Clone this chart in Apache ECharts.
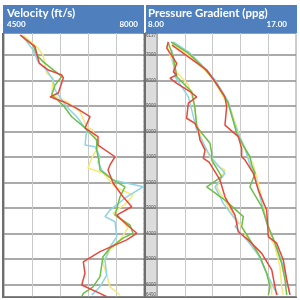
<!DOCTYPE html>
<html><head><meta charset="utf-8">
<script src="https://cdn.jsdelivr.net/npm/echarts@6/dist/echarts.min.js"></script>
<style>html,body{margin:0;padding:0;background:#fff}#c{width:300px;height:300px}</style>
</head><body><div id="c"></div>
<script>
// ---- text ----
const velTitle = 'Velocity (ft/s)';
const ppgTitle = 'Pressure Gradient (ppg)';
const velTickLabels = ['4500', '8000'];
const ppgTickLabels = ['8.00', '17.00'];
// ---- axes ----
const depthTop = 6137, depthBottom = 16490;
const velMin = 4500, velMax = 8000;
const velGridValues = [5200, 5900, 6600, 7300];
const ppgMin = 8, ppgMax = 17;
const ppgGridValues = [9.8, 11.6, 13.4, 15.2];
// ---- velocity track ----
const velRedDepth = [6215,6670,7330,7590,7780,7900,8490,8640,8830,9090,9420,9860,10200,10530,10990,11310,11510,12020,12560,12950,13280,13590,13990,14250,14710,15110,15560,16020,16350,16480];
const velRed = [4900,5275,5383,5608,5943,5983,5858,5650,5983,6318,6650,6525,6850,6850,7275,7150,7100,7225,7475,7693,7318,7525,7818,7568,6900,6483,6525,6443,6900,7068];
const velYellowDepth = [6215,6730,7000,7720,7900,8570,8830,9220,9810,9940,10600,11040,11430,11630,12170,12490,12800,13200,13540,13780,14250,14650,15160,15630,16090,16410];
const velYellow = [4983,5350,5475,5568,5725,5693,6068,6400,6568,6725,6850,6693,6600,6975,7275,7725,7568,7225,7475,7600,7400,7150,6975,7068,7150,7400];
const velCyanDepth = [6290,6800,7260,7590,7980,8370,9030,9420,9940,10530,10600,10990,11180,11510,11900,12170,12560,13080,13340,13540,14130,14520,15040,15630,16090,16410];
const velCyan = [4975,5225,5350,5568,5725,5775,6068,6318,6568,6525,6775,6900,6850,6943,7225,7975,7568,7150,7025,7275,7318,7150,7025,7068,6900,6693];
const velGreenDepth = [6215,6610,7000,7260,7850,8180,8570,8960,9420,9860,10330,10730,11170,11510,11900,12170,12560,13280,13670,13990,14180,14570,14910,15690,16090,16350,16480];
const velGreen = [4917,5225,5318,5475,5943,5775,5693,5975,6193,6525,6818,6818,6875,6900,7225,7525,7400,7275,7650,7725,7475,7150,6975,6900,6725,6483,6443];
// ---- pressure track: lower group ----
const ppRedDepth = [6480,6730,7330,7660,7780,7910,8110,8440,8640,8890,9480,9680,9940,10330,10730,11050,11200,11900,12560,13280,13930,14250,14780,15430,16090,16410];
const ppRed = [8.73,8.63,9.28,9.06,9.28,8.84,9.28,10.14,10.57,10.03,9.92,10.46,10.67,10.78,11.11,11.00,11.37,12.08,12.40,13.05,13.26,13.91,14.78,15.43,15.64,15.75];
const ppYellowDepth = [6610,7000,7590,8180,8770,9680,10660,11310,11510,12170,12950,13730,14250,14910,15560,16090,16410];
const ppYellow = [8.65,8.84,9.17,10.03,10.35,10.57,11.11,11.76,12.40,11.87,12.62,13.48,13.91,14.67,15.10,15.43,15.43];
const ppCyanDepth = [6800,7850,8640,9160,9940,10840,11120,11640,12170,12820,13600,13730,14250,14840,15560,16220,16410];
const ppCyan = [8.95,9.17,10.03,10.25,10.57,11.32,11.65,12.40,11.76,12.29,13.26,13.05,13.81,14.56,15.10,15.64,15.85];
const ppGreenDepth = [6530,7070,7850,8440,9090,9810,10460,10840,11120,11770,12170,12690,13340,13730,14250,14910,15560,16090,16410];
const ppGreen = [8.73,9.06,9.28,10.25,10.46,10.57,11.43,11.54,11.54,12.19,11.22,12.40,13.59,13.48,14.02,14.67,15.10,15.32,15.21];
// ---- pressure track: upper group ----
const fgRedDepth = [6610,7120,7590,8050,8640,9030,9750,10200,10660,10990,11120,11640,12300,13080,14130,14380,15040,15820,16410];
const fgRed = [8.97,10.14,11.22,11.76,12.40,12.51,12.40,13.26,13.48,13.48,13.70,14.24,14.56,15.10,15.21,15.75,16.18,16.40,16.61];
const fgYellowDepth = [6570,7040,7670,8060,8770,9080,9810,10570,11310,12030,13210,14130,14520,15300,16090,16410];
const fgYellow = [8.97,10.14,11.24,11.76,12.40,12.73,13.16,13.57,14.24,14.56,15.00,15.32,15.64,15.96,16.07,16.18];
const fgCyanDepth = [6480,6930,7520,7980,8500,8830,9550,10070,10660,11310,11770,12820,13600,14520,15300,16090,16410];
const fgCyan = [9.06,10.14,11.11,11.76,12.29,12.62,12.94,13.26,13.70,14.02,14.35,14.78,15.10,15.75,16.18,16.50,16.61];
const fgGreenDepth = [6490,6920,7470,7940,8410,8880,9550,10070,10530,10990,11310,11640,12170,12950,13730,14380,15170,15820,16410];
const fgGreen = [8.91,10.01,10.98,11.63,12.14,12.60,12.92,13.16,13.57,14.02,14.13,14.35,14.02,14.78,15.21,15.64,16.07,16.29,16.40];

const C = {red:'#e8483c', yellow:'#f7e77a', cyan:'#8fd3e6', green:'#6cbf4a'};
const HEAD = '#4f80bd';
const zip = (vals, deps) => vals.map((v, i) => [v, deps[i]]);
const vGrid = (vals) => ({
  silent: true, symbol: 'none', z: 1,
  label: {show: false},
  lineStyle: {color: '#c9c9c9', width: 1, type: 'solid'},
  data: vals.map(v => ({xAxis: v}))
});
function line(name, vals, deps, color, gi, extra) {
  return Object.assign({
    name, type: 'line', xAxisIndex: gi, yAxisIndex: gi,
    data: zip(vals, deps), symbol: 'none', z: 5,
    lineStyle: {color, width: 1.5}, itemStyle: {color},
    animation: false
  }, extra || {});
}
const hSplit = {show: true, lineStyle: {color: '#8e8e8e', width: 1.5}};
const yBase = (gi) => ({
  type: 'value', gridIndex: gi, min: depthTop, max: depthBottom, inverse: true,
  splitNumber: 10, axisLine: {show: false}, axisTick: {show: false},
  axisLabel: {show: false}, splitLine: hSplit
});

const chart = echarts.init(document.getElementById('c'), null, {renderer: 'canvas'});
chart.setOption({
  animation: false,
  backgroundColor: '#fff',
  grid: [
    {left: 4, top: 33, width: 140, height: 264, show: true, borderColor: '#8a8a8a', borderWidth: 1},
    {left: 157, top: 33, width: 139, height: 264, show: true, borderColor: '#9a9a9a', borderWidth: 1},
    {left: 145, top: 33, width: 12, height: 264, show: true, backgroundColor: '#dcdcdc', borderColor: '#8a8a8a', borderWidth: 1}
  ],
  xAxis: [
    {type: 'value', gridIndex: 0, min: velMin, max: velMax, show: false},
    {type: 'value', gridIndex: 1, min: ppgMin, max: ppgMax, show: false},
    {type: 'value', gridIndex: 2, min: 0, max: 1, show: false}
  ],
  yAxis: [
    yBase(0), yBase(1),
    Object.assign(yBase(2), {
      position: 'right',
      axisTick: {show: true, inside: true, length: 2, lineStyle: {color: '#777'}},
      minorTick: {show: true, splitNumber: 5, length: 1.5, lineStyle: {color: '#999'}},
      axisLabel: {show: true, inside: true, margin: 1, fontSize: 4.5, color: '#555',
        fontFamily: 'Liberation Sans', verticalAlignMinLabel: 'top', verticalAlignMaxLabel: 'bottom',
        formatter: v => String(Math.round(v))}
    })
  ],
  series: [
    line('Velocity yellow', velYellow, velYellowDepth, C.yellow, 0, {markLine: vGrid(velGridValues)}),
    line('Velocity cyan', velCyan, velCyanDepth, C.cyan, 0),
    line('Velocity green', velGreen, velGreenDepth, C.green, 0),
    line('Velocity red', velRed, velRedDepth, C.red, 0),
    line('PP yellow', ppYellow, ppYellowDepth, C.yellow, 1, {markLine: vGrid(ppgGridValues)}),
    line('PP cyan', ppCyan, ppCyanDepth, C.cyan, 1),
    line('PP green', ppGreen, ppGreenDepth, C.green, 1),
    line('PP red', ppRed, ppRedDepth, C.red, 1),
    line('FG yellow', fgYellow, fgYellowDepth, C.yellow, 1),
    line('FG cyan', fgCyan, fgCyanDepth, C.cyan, 1),
    line('FG green', fgGreen, fgGreenDepth, C.green, 1),
    line('FG red', fgRed, fgRedDepth, C.red, 1)
  ],
  graphic: [
    {type: 'rect', shape: {x: 3, y: 5, width: 141, height: 28}, style: {fill: HEAD}, z: 10},
    {type: 'rect', shape: {x: 146, y: 5, width: 151, height: 28}, style: {fill: HEAD}, z: 10},
    {type: 'text', x: 7, y: 19.5, z: 11, style: {text: velTitle, fill: '#fff', font: 'bold 11.5px Lato', textVerticalAlign: 'bottom'}},
    {type: 'text', x: 7, y: 28.5, z: 11, style: {text: velTickLabels[0], fill: '#fff', font: 'bold 8px Lato', textVerticalAlign: 'bottom'}},
    {type: 'text', x: 138, y: 28.5, z: 11, style: {text: velTickLabels[1], fill: '#fff', font: 'bold 8px Lato', textAlign: 'right', textVerticalAlign: 'bottom'}},
    {type: 'text', x: 148, y: 19.5, z: 11, style: {text: ppgTitle, fill: '#fff', font: 'bold 11.5px Lato', textVerticalAlign: 'bottom'}},
    {type: 'text', x: 148, y: 28.5, z: 11, style: {text: ppgTickLabels[0], fill: '#fff', font: 'bold 8px Lato', textVerticalAlign: 'bottom'}},
    {type: 'text', x: 287, y: 28.5, z: 11, style: {text: ppgTickLabels[1], fill: '#fff', font: 'bold 8px Lato', textAlign: 'right', textVerticalAlign: 'bottom'}},
    {type: 'rect', shape: {x: 2, y: 33, width: 2, height: 265}, style: {fill: '#6e6e6e'}, z: 12},
    {type: 'rect', shape: {x: 144, y: 33, width: 2, height: 265}, style: {fill: '#6e6e6e'}, z: 12},
    {type: 'rect', shape: {x: 2, y: 296.5, width: 295, height: 1.5}, style: {fill: '#6e6e6e'}, z: 12}
  ]
});
</script></body></html>
